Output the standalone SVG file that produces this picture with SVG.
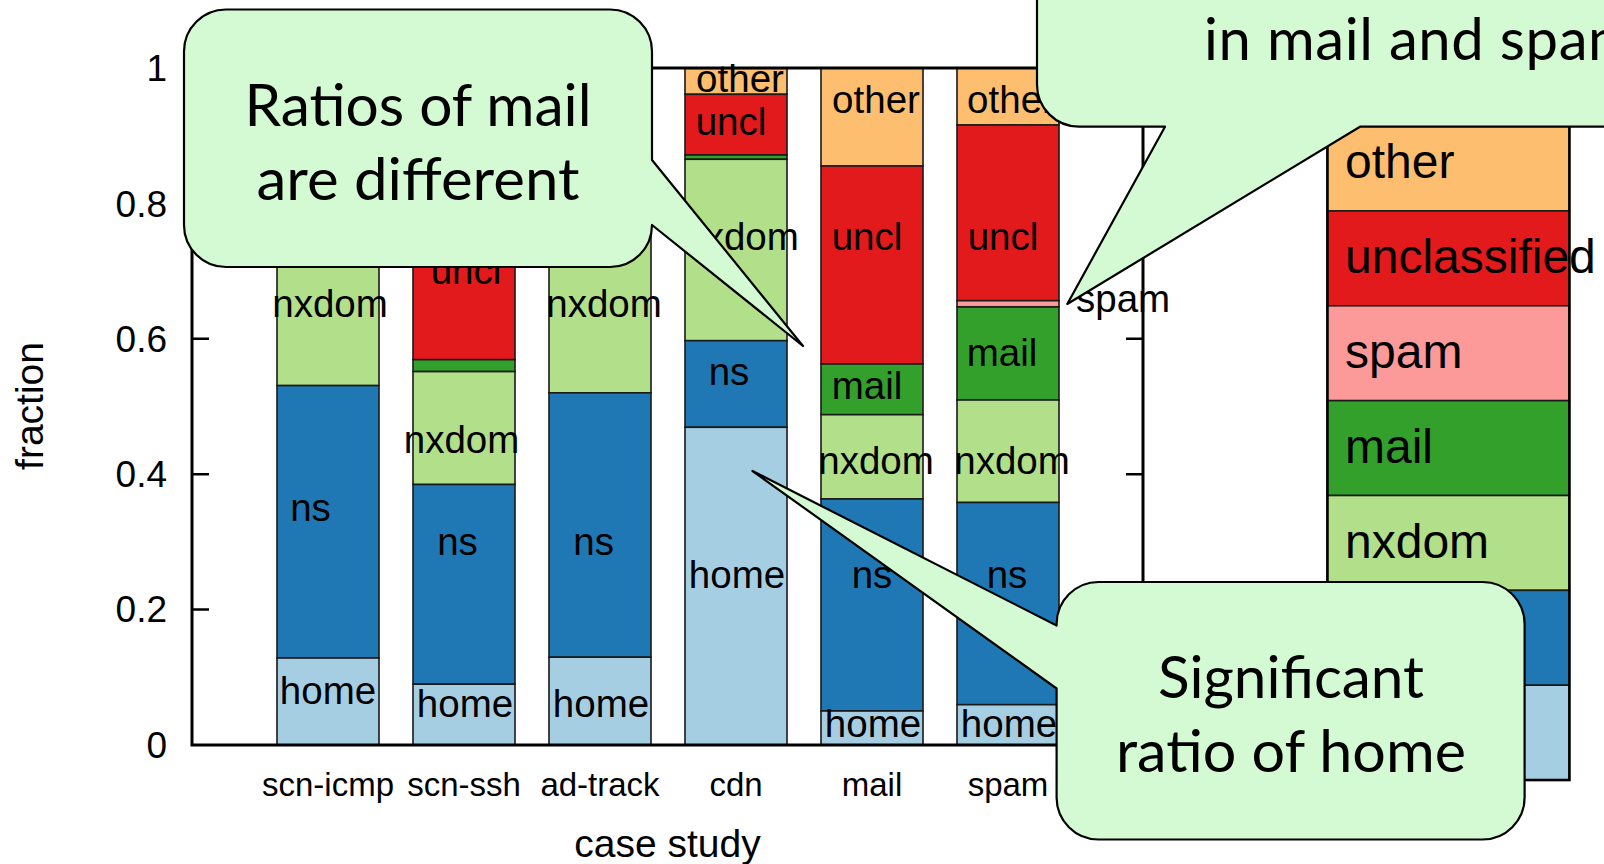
<svg xmlns="http://www.w3.org/2000/svg" width="1604" height="864" viewBox="0 0 1604 864">
  <style>
    .seg{stroke:#1a1a1a;stroke-width:1.6}
    .home{fill:#a6cee3}.ns{fill:#1f78b4}.nxdom{fill:#b2df8a}.mail{fill:#33a02c}
    .spam{fill:#fb9a99}.uncl{fill:#e31a1c}.other{fill:#fdbf6f}
    .lbl{font-family:"Liberation Sans",Arial,sans-serif;font-size:38.5px;fill:#000;text-anchor:middle}
    .ytick{font-family:"Liberation Sans",Arial,sans-serif;font-size:37px;fill:#000;text-anchor:end}
    .xtick{font-family:"Liberation Sans",Arial,sans-serif;font-size:33px;fill:#000;text-anchor:middle}
    .axtitle{font-family:"Liberation Sans",Arial,sans-serif;font-size:39px;fill:#000;text-anchor:middle}
    .key{font-family:"Liberation Sans",Arial,sans-serif;font-size:48px;fill:#000}
    .frame{fill:none;stroke:#000;stroke-width:3}
    .tick{stroke:#000;stroke-width:2.5}
    .bubble{fill:#d4fad4;stroke:#000;stroke-width:2.2;stroke-linejoin:round}
    .note{font-family:Lato,"Open Sans",sans-serif;font-size:58px;fill:#000;text-anchor:middle}
  </style>

  <rect width="1604" height="864" fill="#fff"/>

  <!-- stacked bars, one group per case study -->
  <g id="bar-scn-icmp">
    <rect class="seg other" x="277" y="68" width="102" height="52"/>
    <rect class="seg uncl" x="277" y="120" width="102" height="80"/>
    <rect class="seg nxdom" x="277" y="200" width="102" height="185.6"/>
    <rect class="seg ns" x="277" y="385.6" width="102" height="272.4"/>
    <rect class="seg home" x="277" y="658" width="102" height="87"/>
    <text class="lbl" x="330" y="317.3">nxdom</text>
    <text class="lbl" x="310.5" y="521">ns</text>
    <text class="lbl" x="328" y="703.6">home</text>
  </g>
  <g id="bar-scn-ssh">
    <rect class="seg other" x="413" y="68" width="102" height="82"/>
    <rect class="seg uncl" x="413" y="150" width="102" height="209.7"/>
    <rect class="seg mail" x="413" y="359.7" width="102" height="11.9"/>
    <rect class="seg nxdom" x="413" y="371.6" width="102" height="112.9"/>
    <rect class="seg ns" x="413" y="484.5" width="102" height="199.7"/>
    <rect class="seg home" x="413" y="684.2" width="102" height="60.8"/>
    <text class="lbl" x="466" y="284">uncl</text>
    <text class="lbl" x="461.5" y="453">nxdom</text>
    <text class="lbl" x="457.5" y="554.7">ns</text>
    <text class="lbl" x="465" y="717">home</text>
  </g>
  <g id="bar-ad-track">
    <rect class="seg other" x="549" y="68" width="102" height="52"/>
    <rect class="seg uncl" x="549" y="120" width="102" height="80"/>
    <rect class="seg nxdom" x="549" y="200" width="102" height="192.8"/>
    <rect class="seg ns" x="549" y="392.8" width="102" height="264.4"/>
    <rect class="seg home" x="549" y="657.2" width="102" height="87.8"/>
    <text class="lbl" x="604" y="317.3">nxdom</text>
    <text class="lbl" x="593.6" y="554.7">ns</text>
    <text class="lbl" x="601" y="717">home</text>
  </g>
  <g id="bar-cdn">
    <rect class="seg other" x="685" y="68.3" width="102" height="26"/>
    <rect class="seg uncl" x="685" y="94.3" width="102" height="60.7"/>
    <rect class="seg mail" x="685" y="155" width="102" height="4.3"/>
    <rect class="seg nxdom" x="685" y="159.3" width="102" height="181.4"/>
    <rect class="seg ns" x="685" y="340.7" width="102" height="86.6"/>
    <rect class="seg home" x="685" y="427.3" width="102" height="317.7"/>
    <text class="lbl" x="740" y="91.7">other</text>
    <text class="lbl" x="731" y="135">uncl</text>
    <text class="lbl" x="741" y="250">nxdom</text>
    <text class="lbl" x="729" y="384.5">ns</text>
    <text class="lbl" x="737" y="587.8">home</text>
  </g>
  <g id="bar-mail">
    <rect class="seg other" x="821" y="68" width="102" height="98"/>
    <rect class="seg uncl" x="821" y="166" width="102" height="198"/>
    <rect class="seg mail" x="821" y="364" width="102" height="50.7"/>
    <rect class="seg nxdom" x="821" y="414.7" width="102" height="84.3"/>
    <rect class="seg ns" x="821" y="499" width="102" height="212"/>
    <rect class="seg home" x="821" y="711" width="102" height="34"/>
    <text class="lbl" x="876" y="113.3">other</text>
    <text class="lbl" x="867" y="250">uncl</text>
    <text class="lbl" x="867" y="399">mail</text>
    <text class="lbl" x="876" y="473.7">nxdom</text>
    <text class="lbl" x="872" y="587.8">ns</text>
    <text class="lbl" x="873" y="737">home</text>
  </g>
  <g id="bar-spam">
    <rect class="seg other" x="957" y="68" width="102" height="57"/>
    <rect class="seg uncl" x="957" y="125" width="102" height="175.7"/>
    <rect class="seg spam" x="957" y="300.7" width="102" height="6.3"/>
    <rect class="seg mail" x="957" y="307" width="102" height="93"/>
    <rect class="seg nxdom" x="957" y="400" width="102" height="102.5"/>
    <rect class="seg ns" x="957" y="502.5" width="102" height="202.2"/>
    <rect class="seg home" x="957" y="704.7" width="102" height="40.3"/>
    <text class="lbl" x="1011" y="113.3">other</text>
    <text class="lbl" x="1003" y="250">uncl</text>
    <text class="lbl" x="1002" y="365.5">mail</text>
    <text class="lbl" x="1012" y="473.7">nxdom</text>
    <text class="lbl" x="1007" y="587.8">ns</text>
    <text class="lbl" x="1009" y="737">home</text>
    <text class="lbl" x="1076" y="311.7" style="text-anchor:start">spam</text>
  </g>

  <!-- axes frame, ticks and labels -->
  <g id="axes">
    <rect class="frame" x="192" y="68" width="951" height="677"/>
    <path class="tick" d="M192 609.6h17M192 474.2h17M192 338.8h17M192 203.4h17M1143 609.6h-17M1143 474.2h-17M1143 338.8h-17M1143 203.4h-17"/>
    <text class="ytick" x="167" y="757.5">0</text>
    <text class="ytick" x="167" y="622.3">0.2</text>
    <text class="ytick" x="167" y="487">0.4</text>
    <text class="ytick" x="167" y="351.7">0.6</text>
    <text class="ytick" x="167" y="216.5">0.8</text>
    <text class="ytick" x="167" y="80.5">1</text>
    <text class="xtick" x="328" y="796">scn-icmp</text>
    <text class="xtick" x="464" y="796">scn-ssh</text>
    <text class="xtick" x="600" y="796">ad-track</text>
    <text class="xtick" x="736" y="796">cdn</text>
    <text class="xtick" x="872" y="796">mail</text>
    <text class="xtick" x="1008" y="796">spam</text>
    <text class="axtitle" x="667.5" y="857">case study</text>
    <text class="axtitle" x="43.3" y="406" transform="rotate(-90 43.3 406)">fraction</text>
  </g>

  <!-- colour key -->
  <g id="key">
    <rect class="seg other" x="1327.4" y="116.1" width="242" height="94.85"/>
    <rect class="seg uncl" x="1327.4" y="210.95" width="242" height="94.85"/>
    <rect class="seg spam" x="1327.4" y="305.8" width="242" height="94.85"/>
    <rect class="seg mail" x="1327.4" y="400.65" width="242" height="94.85"/>
    <rect class="seg nxdom" x="1327.4" y="495.5" width="242" height="94.85"/>
    <rect class="seg ns" x="1327.4" y="590.35" width="242" height="94.85"/>
    <rect class="seg home" x="1327.4" y="685.2" width="242" height="94.85"/>
    <rect x="1327.4" y="116.1" width="242" height="663.95" fill="none" stroke="#000" stroke-width="2.6"/>
    <text class="key" x="1345" y="178.3">other</text>
    <text class="key" x="1345" y="273">unclassified</text>
    <text class="key" x="1345" y="368">spam</text>
    <text class="key" x="1345" y="463">mail</text>
    <text class="key" x="1345" y="558">nxdom</text>
  </g>

  <!-- speech bubbles -->
  <g id="note-mail-ratios">
    <path class="bubble" d="M226 9.5H610A42 42 0 0 1 652 51.5V160L803 346L652 225A42 42 0 0 1 610 267H226A42 42 0 0 1 184 225V51.5A42 42 0 0 1 226 9.5Z"/>
    <text class="note" x="418" y="126" textLength="347" lengthAdjust="spacingAndGlyphs">Ratios of mail</text>
    <text class="note" x="418" y="200" textLength="323" lengthAdjust="spacingAndGlyphs">are different</text>
  </g>
  <g id="note-mail-spam">
    <path class="bubble" d="M1037 -20V84.7A42 42 0 0 0 1079 126.7H1165L1067.3 304L1360 126.7H1640V-20Z"/>
    <text class="note" x="1204" y="60" style="text-anchor:start;letter-spacing:0.6px">in mail and spam</text>
  </g>
  <g id="note-home">
    <path class="bubble" d="M1098.6 582H1482.6A42 42 0 0 1 1524.6 624V797.5A42 42 0 0 1 1482.6 839.5H1098.6A42 42 0 0 1 1056.6 797.5V688.5L752.5 471L1056.6 625.5V624A42 42 0 0 1 1098.6 582Z"/>
    <text class="note" x="1291" y="698" textLength="266" lengthAdjust="spacingAndGlyphs">Significant</text>
    <text class="note" x="1291" y="771.7" textLength="350" lengthAdjust="spacingAndGlyphs">ratio of home</text>
  </g>
</svg>
